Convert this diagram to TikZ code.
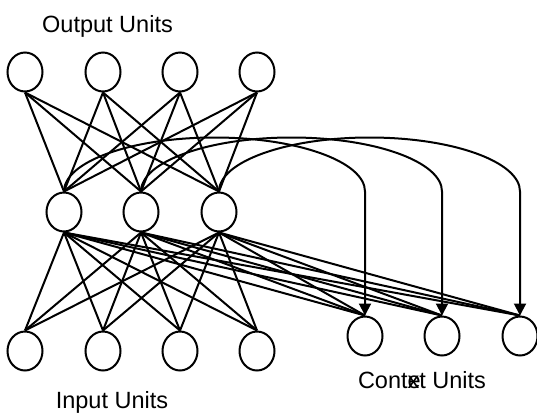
\documentclass[tikz,border=0pt]{standalone}
\usepackage{fontspec}
\setmainfont{Liberation Sans}
\usetikzlibrary{shapes.geometric,arrows.meta}
\begin{document}
\begin{tikzpicture}[x=1pt,y=-1pt,
  unit/.style={draw,ellipse,line width=2pt,minimum width=35pt,minimum height=39pt,inner sep=0pt},
  link/.style={line width=2pt},
  feedback/.style={line width=2pt,-{Triangle[width=12pt,length=12pt]}},
  lbl/.style={anchor=base,inner sep=0pt,font=\fontsize{23.5}{28}\selectfont}]
\useasboundingbox (0,0) rectangle (537,413);

% output layer
\node[unit] (o1) at (25,72) {};
\node[unit] (o2) at (103,72) {};
\node[unit] (o3) at (180,72) {};
\node[unit] (o4) at (257,72) {};
% hidden layer
\node[unit] (h1) at (64,212) {};
\node[unit] (h2) at (141,212) {};
\node[unit] (h3) at (219,212) {};
% input layer
\node[unit] (i1) at (25,351) {};
\node[unit] (i2) at (103,351) {};
\node[unit] (i3) at (180,351) {};
\node[unit] (i4) at (257,351) {};
% context layer
\node[unit] (c1) at (365,336) {};
\node[unit] (c2) at (442,336) {};
\node[unit] (c3) at (520,336) {};

% hidden -> output
\foreach \h in {h1,h2,h3}
  \foreach \o in {o1,o2,o3,o4}
    \draw[link] (\h.north) -- (\o.south);
% input -> hidden
\foreach \i in {i1,i2,i3,i4}
  \foreach \h in {h1,h2,h3}
    \draw[link] (\i.north) -- (\h.south);
% context -> hidden
\foreach \h in {h1,h2,h3}
  \foreach \c in {c1,c2,c3}
    \draw[link] (\h.south) -- (\c.north);
% copy of hidden activations into context
\draw[feedback] (h1.north) arc[start angle=180,end angle=0,x radius=150.5pt,y radius=54pt] -- (c1.north);
\draw[feedback] (h2.north) arc[start angle=180,end angle=0,x radius=150.5pt,y radius=54pt] -- (c2.north);
\draw[feedback] (h3.north) arc[start angle=180,end angle=0,x radius=150.5pt,y radius=54pt] -- (c3.north);

% layer labels
\node[lbl] (lout) at (107.5,32) {Output Units};
\node[lbl] (lin) at (112,408) {Input Units};
\node[lbl] (lctx) at (422,388) {Cont\makebox[0pt][l]{e}xt Units};
\end{tikzpicture}
\end{document}
